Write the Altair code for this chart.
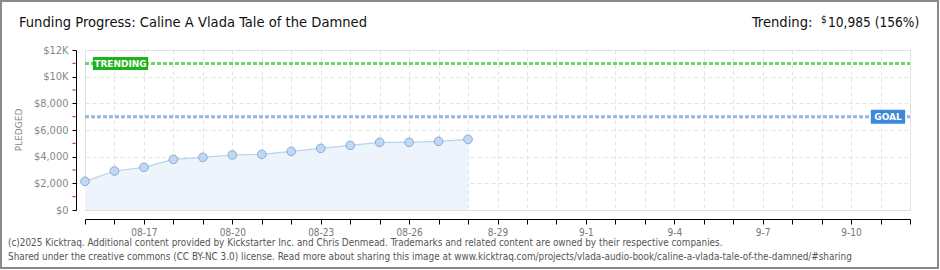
import altair as alt
import pandas as pd

# ---- data ----
dates = ["2025-08-15", "2025-08-16", "2025-08-17", "2025-08-18", "2025-08-19",
         "2025-08-20", "2025-08-21", "2025-08-22", "2025-08-23", "2025-08-24",
         "2025-08-25", "2025-08-26", "2025-08-27", "2025-08-28"]
pledged = [2150, 2925, 3200, 3800, 3950, 4125, 4175, 4400, 4625, 4850,
           5075, 5075, 5150, 5300]
start_date = "2025-08-15"
end_date = "2025-09-12"
label_dates = ["2025-08-17", "2025-08-20", "2025-08-23", "2025-08-26", "2025-08-29",
               "2025-09-01", "2025-09-04", "2025-09-07", "2025-09-10"]
label_texts = ["08-17", "08-20", "08-23", "08-26", "8-29", "9-1", "9-4", "9-7", "9-10"]
y_major = [0, 2000, 4000, 6000, 8000, 10000, 12000]
y_minor = [1000, 3000, 5000, 7000, 9000, 11000]
goal = 7000
trending = 10985
trending_pct = 156
title_text = "Funding Progress: Caline A Vlada Tale of the Damned"
footer1 = ("(c)2025 Kicktraq. Additional content provided by Kickstarter Inc. and Chris Denmead. "
           "Trademarks and related content are owned by their respective companies.")
footer2 = ("Shared under the creative commons (CC BY-NC 3.0) license. Read more about sharing this "
           "image at www.kicktraq.com/projects/vlada-audio-book/caline-a-vlada-tale-of-the-damned/#sharing")

W, H = 825, 160
FONT = "DejaVu Sans Condensed"

t0 = pd.Timestamp(start_date)
n_days = (pd.Timestamp(end_date) - t0).days
df = pd.DataFrame({"day": [(pd.Timestamp(d) - t0).days for d in dates], "pledged": pledged})
lab_arr = [""] * (n_days + 1)
for d, t in zip(label_dates, label_texts):
    lab_arr[(pd.Timestamp(d) - t0).days] = t
label_expr = "[" + ",".join("'%s'" % s for s in lab_arr) + "][datum.value]"

xs = alt.Scale(domain=[0, n_days], nice=False, zero=False)
ys = alt.Scale(domain=[0, 12000], nice=False)

x_axis = alt.Axis(
    values=list(range(n_days + 1)), labelExpr=label_expr, title=None, grid=True,
    gridDash=[4, 3], gridColor="#e3e3e3", domainColor="#000", tickColor="#000",
    tickSize=5, offset=9, labelColor="#777", labelFont=FONT, labelFontSize=10,
    labelPadding=3, labelFlush=False, labelOverlap=False)
y_axis = alt.Axis(
    values=y_major, title=None, grid=True, gridDash=[4, 3], gridColor="#e3e3e3",
    domainColor="#000", tickColor="#000", tickSize=4, offset=9, labelOverlap=False,
    labelExpr="datum.value >= 10000 ? '$' + (datum.value/1000) + 'K' : '$' + format(datum.value, ',')",
    labelColor="#888", labelFont=FONT, labelFontSize=11, labelPadding=4)

x_enc = alt.X("day:Q", scale=xs, axis=x_axis)
y_enc = alt.Y("pledged:Q", scale=ys, axis=y_axis)

base = alt.Chart(df).encode(x=x_enc, y=y_enc)
area = base.mark_area(color="#edf4fc", opacity=1)
line = base.mark_line(color="#b7d3f1", strokeWidth=1.2)
pts = base.mark_point(filled=True, size=75, fill="#bed8f6", stroke="#8ea9cc",
                      strokeWidth=1, opacity=1)


def yv():
    return alt.Y("v:Q", scale=ys, axis=y_axis)


trend_rule = alt.Chart(pd.DataFrame({"v": [trending]})).mark_rule(
    color="#6fd16f", strokeWidth=3, strokeDash=[4, 2]).encode(
    y=yv(), x=alt.value(0), x2=alt.value(W))
goal_rule = alt.Chart(pd.DataFrame({"v": [goal]})).mark_rule(
    color="#93b7df", strokeWidth=3, strokeDash=[4, 2]).encode(
    y=yv(), x=alt.value(0), x2=alt.value(W))

trend_box = alt.Chart(pd.DataFrame({"v": [trending]})).mark_point(
    shape="M-4.25,-1H4.25V1H-4.25Z", filled=True, fill="#1cb31c", size=169, opacity=1,
    stroke=None).encode(y=yv(), x=alt.value(35.5))
trend_txt = alt.Chart(pd.DataFrame({"v": [trending], "t": ["TRENDING"]})).mark_text(
    color="white", font="DejaVu Sans", fontSize=9, fontWeight="bold").encode(
    y=yv(), x=alt.value(35.5), text="t:N")
goal_box = alt.Chart(pd.DataFrame({"v": [goal]})).mark_point(
    shape="M-2.45,-1H2.45V1H-2.45Z", filled=True, fill="#3d88d8", size=196, opacity=1,
    stroke=None).encode(y=yv(), x=alt.value(803))
goal_txt = alt.Chart(pd.DataFrame({"v": [goal], "t": ["GOAL"]})).mark_text(
    color="white", font="DejaVu Sans", fontSize=9, fontWeight="bold").encode(
    y=yv(), x=alt.value(803), text="t:N")

minor_ticks = alt.Chart(pd.DataFrame({"v": y_minor})).mark_rule(
    color="#e00000", strokeWidth=1).encode(
    y=yv(), x=alt.value(-12.5), x2=alt.value(-9.5))

one = pd.DataFrame({"a": [0]})
border = alt.Chart(one).mark_rect(fill=None, stroke="#8a8a8a", strokeWidth=2).encode(
    x=alt.value(-84), x2=alt.value(853), y=alt.value(-49), y2=alt.value(218))


def txt(s, x, y, size, color="#111", align="left", font=FONT, angle=None, baseline="middle"):
    kw = dict(align=align, baseline=baseline, fontSize=size, color=color, font=font)
    if angle is not None:
        kw["angle"] = angle
    return alt.Chart(pd.DataFrame({"t": [s]})).mark_text(**kw).encode(
        x=alt.value(x), y=alt.value(y), text="t:N")


title = txt(title_text, -66, -27, 14.6)
tr1 = txt("Trending:", 752 - 85, -27, 14.6)
tr2 = txt("$", 821 - 85, -30, 10)
tr3 = txt("{:,} ({}%)".format(trending, trending_pct), 828 - 85, -27, 13.6)
pled = txt("PLEDGED", -66, 80, 9, color="#888", align="center", font="DejaVu Sans", angle=270)
f1 = txt(footer1, -77, 193, 9.9, color="#555")
f2 = txt(footer2, -77, 207, 9.9, color="#555")

chart = alt.layer(
    border, area, trend_rule, goal_rule, line, pts, trend_box, trend_txt, goal_box, goal_txt,
    minor_ticks, title, tr1, tr2, tr3, pled, f1, f2
).properties(
    width=W, height=H,
    autosize=alt.AutoSizeParams(type="none"),
    padding={"left": 85, "top": 50, "right": 30, "bottom": 60},
).configure_view(stroke=None).configure(background="white")

chart.save("out.html", embed_options={"renderer": "svg", "actions": False})
